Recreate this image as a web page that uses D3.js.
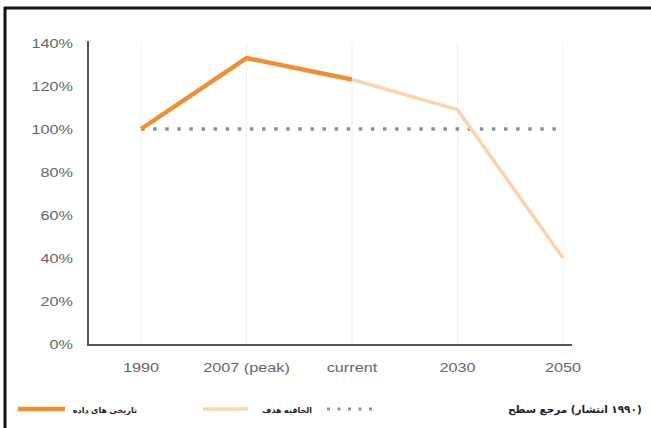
<!DOCTYPE html>
<html><head><meta charset="utf-8">
<script src="https://cdn.jsdelivr.net/npm/d3@7"></script>
<style>html,body{margin:0;padding:0;background:#fff;}svg{display:block;}</style>
</head><body>
<script>
const categories = ["1990", "2007 (peak)", "current", "2030", "2050"];
const historical = [100, 133, 123];            // 1990 .. current
const target = [null, null, 123, 109, 40];       // current .. 2050
const referenceLevel = 100;
const yTicks = [0, 20, 40, 60, 80, 100, 120, 140];
const legendLabels = ["داده های تاریخی", "هدف الحاقیه", "سطح مرجع (انتشار ۱۹۹۰)"];

const W = 651, H = 428;
const svg = d3.select("body").append("svg").attr("width", W).attr("height", H);

// frame
svg.append("line").attr("x1", 5).attr("x2", 5).attr("y1", 7).attr("y2", H).attr("stroke", "#111").attr("stroke-width", 3);
svg.append("line").attr("x1", 4).attr("x2", W).attr("y1", 8).attr("y2", 8).attr("stroke", "#111").attr("stroke-width", 3);

const x = d3.scalePoint().domain(categories).range([141, 563]);
const y = d3.scaleLinear().domain([0, 140]).range([344, 43]);

// vertical faint grid
svg.append("g").selectAll("line").data(categories).join("line")
  .attr("x1", d => x(d)).attr("x2", d => x(d))
  .attr("y1", y(140)).attr("y2", y(0))
  .attr("stroke", "#efefef").attr("stroke-width", 1);

// axes lines
svg.append("line").attr("x1", 88).attr("x2", 88).attr("y1", 41).attr("y2", 345.5).attr("stroke", "#555").attr("stroke-width", 2);
svg.append("line").attr("x1", 87).attr("x2", 572).attr("y1", 345).attr("y2", 345).attr("stroke", "#555").attr("stroke-width", 2);

// y tick labels
svg.append("g").selectAll("text").data(yTicks).join("text")
  .attr("transform", d => `translate(73,${y(d) + 4.5}) scale(1.3,1)`)
  .attr("text-anchor", "end")
  .attr("font-family", "Liberation Sans, Arial, sans-serif")
  .attr("font-size", 12.5).attr("fill", "#666")
  .text(d => d + "%");

// x tick labels
svg.append("g").selectAll("text").data(categories).join("text")
  .attr("transform", d => `translate(${x(d)},${372}) scale(1.3,1)`)
  .attr("text-anchor", "middle")
  .attr("font-family", "Liberation Sans, Arial, sans-serif")
  .attr("font-size", 12.5).attr("fill", "#666")
  .text(d => d);

// reference dotted line
svg.append("line")
  .attr("x1", x(categories[0])).attr("x2", x(categories[categories.length - 1]))
  .attr("y1", y(referenceLevel)).attr("y2", y(referenceLevel))
  .attr("stroke", "#8f8f8f").attr("stroke-width", 3.5).attr("stroke-dasharray", "3.5,8.6");

const line = d3.line().defined(d => d.v != null).x(d => x(d.c)).y(d => y(d.v));

// target projection
svg.append("path")
  .datum(categories.map((c, i) => ({c, v: target[i]})))
  .attr("d", line).attr("fill", "none")
  .attr("stroke", "#fbd3ad").attr("stroke-width", 3.5).attr("stroke-linejoin", "round");

// historical
svg.append("path")
  .datum(historical.map((v, i) => ({c: categories[i], v})))
  .attr("d", line).attr("fill", "none")
  .attr("stroke", "#ef8f35").attr("stroke-width", 4.5).attr("stroke-linejoin", "round");

// legend
const ly = 409;
svg.append("line").attr("x1", 18).attr("x2", 65).attr("y1", ly).attr("y2", ly).attr("stroke", "#ef8f35").attr("stroke-width", 4.5);
svg.append("line").attr("x1", 203).attr("x2", 248).attr("y1", ly).attr("y2", ly).attr("stroke", "#fbd3ad").attr("stroke-width", 3.5);
svg.append("line").attr("x1", 327).attr("x2", 372).attr("y1", ly).attr("y2", ly).attr("stroke", "#8f8f8f").attr("stroke-width", 3).attr("stroke-dasharray", "3,7.5");

// legend labels: words laid out left-to-right, as in the reference
function tokens(s) {
  // split into words, detaching parentheses so they sit on the outside
  const out = [];
  s.split(" ").forEach((w, i) => {
    const m = w.match(/^(\(?)(.*?)(\)?)$/);
    const parts = [m[1], m[2], m[3]].filter(p => p);
    parts.forEach((p, j) => out.push({t: p, space: i > 0 && j === 0}));
  });
  return out;
}
function legendText(xx, txt, anchor, size) {
  const g = svg.append("g");
  const spaceW = size * 0.32;
  let cur = 0;
  tokens(txt).forEach(tok => {
    if (tok.space) cur += spaceW;
    const t = g.append("text")
      .attr("x", cur).attr("y", 0)
      .attr("font-family", "DejaVu Sans, sans-serif").attr("font-weight", "bold")
      .attr("font-size", size).attr("fill", "#222").text(tok.t);
    cur += t.node().getComputedTextLength();
  });
  const x0 = anchor === "end" ? xx - cur : xx;
  g.attr("transform", `translate(${x0},${ly + 3.5})`);
}
legendText(137, legendLabels[0], "end", 8);
legendText(312, legendLabels[1], "end", 8);
legendText(508, legendLabels[2], "start", 10.5);
</script>
</body></html>
